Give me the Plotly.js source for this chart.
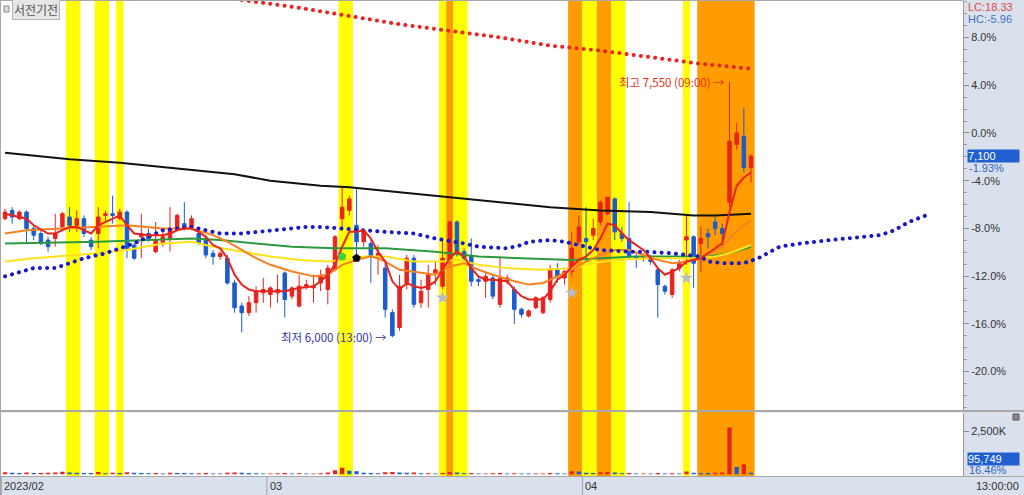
<!DOCTYPE html>
<html>
<head>
<meta charset="utf-8">
<script src="https://cdn.plot.ly/plotly-3.0.1.min.js"></script>
<style>
html,body{margin:0;padding:0;background:#fff;}
#chart{width:1024px;height:495px;}
</style>
</head>
<body>
<div id="chart"></div>
<script>
// ---------------- data ----------------
const basePrice = 7240;           // 0.0% reference price
const lastPrice = 7100;
const openP = [6720,6770,6720,6760,6660,6630,6590,6600,6670,6730,
  6680,6720,6590,6630,6740,6750,6720,6760,6560,6610,
  6630,6520,6570,6600,6660,6690,6670,6630,6600,6510,
  6490,6480,6330,6190,6150,6210,6270,6260,6270,6390,
  6250,6190,6310,6300,6330,6290,6410,6720,6770,6680,
  6580,6570,6480,6420,6150,6060,6330,6480,6210,6290,
  6390,6310,6460,6700,6520,6490,6350,6340,6360,6200,
  6340,6290,6170,6130,6180,6150,6230,6410,6360,6400,
  6580,6600,6620,6700,6750,6840,6630,6600,6490,6480,
  6490,6410,6310,6260,6420,6590,6610,6570,6630,6700,
  6660,6820,7170,7220,7030];
const highP = [6780,6790,6770,6770,6680,6650,6610,6750,6760,6790,
  6770,6740,6610,6790,6770,6860,6780,6770,6570,6750,
  6660,6700,6640,6790,6750,6820,6740,6650,6620,6530,
  6520,6500,6350,6210,6250,6310,6360,6310,6380,6400,
  6310,6380,6350,6380,6410,6440,6620,6910,6860,6910,
  6660,6590,6560,6470,6170,6380,6500,6500,6350,6440,
  6460,6590,6710,6710,6540,6600,6370,6400,6380,6490,
  6380,6310,6180,6170,6250,6250,6440,6450,6410,6640,
  6740,6790,6720,6830,6850,6850,6670,6820,6520,6510,
  6500,6420,6320,6420,6470,6740,6620,6670,6660,6730,
  6690,7550,7300,7390,7110];
const lowP = [6710,6690,6710,6570,6590,6560,6520,6550,6660,6640,
  6640,6610,6530,6540,6700,6690,6710,6480,6470,6480,
  6580,6510,6550,6520,6650,6650,6650,6560,6480,6440,
  6470,6320,6150,6030,6130,6150,6210,6180,6210,6120,
  6230,6180,6290,6210,6280,6200,6400,6650,6740,6490,
  6550,6330,6380,6120,6000,6040,6290,6180,6180,6180,
  6320,6290,6440,6490,6460,6310,6310,6240,6230,6180,
  6320,6080,6120,6120,6170,6140,6210,6330,6320,6370,
  6560,6460,6590,6680,6740,6590,6580,6470,6420,6460,
  6440,6120,6260,6240,6400,6440,6300,6400,6540,6620,
  6540,6790,7140,7000,6940];
const closeP = [6760,6730,6760,6660,6620,6570,6550,6630,6750,6680,
  6720,6630,6550,6730,6750,6740,6760,6540,6480,6630,
  6600,6590,6610,6660,6740,6670,6720,6570,6500,6490,
  6510,6330,6180,6150,6210,6280,6290,6300,6290,6230,
  6300,6310,6320,6310,6370,6420,6610,6790,6840,6580,
  6650,6490,6510,6170,6010,6310,6480,6200,6280,6380,
  6410,6480,6700,6510,6480,6340,6340,6370,6250,6360,
  6360,6170,6140,6160,6240,6240,6410,6370,6400,6540,
  6670,6580,6660,6820,6850,6640,6600,6490,6480,6490,
  6460,6320,6280,6410,6450,6610,6450,6600,6610,6660,
  6630,7190,7240,7030,7100];
const volume = [120000,90000,80000,110000,70000,80000,90000,100000,150000,110000,
  90000,80000,70000,130000,60000,90000,70000,120000,90000,80000,
  60000,70000,50000,90000,80000,70000,60000,60000,70000,50000,
  40000,90000,110000,90000,70000,60000,50000,50000,60000,80000,
  50000,60000,40000,50000,60000,110000,230000,380000,200000,170000,
  90000,80000,60000,120000,130000,110000,90000,100000,60000,60000,
  50000,80000,140000,110000,60000,70000,40000,50000,60000,70000,
  40000,60000,50000,40000,50000,50000,80000,60000,50000,180000,
  160000,90000,70000,120000,130000,110000,60000,70000,50000,50000,
  40000,70000,50000,60000,50000,160000,90000,80000,70000,90000,
  100000,2730000,420000,580000,95749];

// moving averages (at candle indexes)
const ma5X = [0,3,4,6,7,8,9,10,11,12,13,14,16,17,18,20,21,22,23,24,25,26,27,28,29,30,31,32,33,34,35,37,39,40,41,43,44,45,46,47,48,49,50,51,52,53,54,55,56,57,58,59,60,61,62,63,64,65,66,67,68,70,71,72,73,75,76,77,78,79,80,81,82,83,84,85,86,87,88,89,90,91,92,93,94,95,96,97,98,99,100,101,102,103,104];
const ma5Y = [6750,6720,6680,6630,6630,6650,6670,6670,6650,6630,6680,6700,6740,6680,6630,6620,6620,6620,6630,6650,6660,6660,6640,6610,6560,6540,6480,6380,6320,6290,6280,6280,6280,6290,6300,6310,6340,6380,6440,6550,6640,6640,6650,6600,6520,6460,6340,6290,6330,6310,6300,6310,6340,6410,6480,6520,6490,6420,6370,6350,6350,6340,6290,6250,6230,6230,6280,6350,6380,6430,6470,6490,6530,6600,6690,6680,6630,6590,6560,6530,6480,6420,6380,6400,6420,6460,6470,6480,6510,6540,6570,6760,6920,6970,7000];
const ma10X = [0,3,8,13,17,22,26,29,31,33,35,37,40,43,45,46,47,49,51,52,53,55,58,60,62,64,66,68,71,73,75,77,79,81,83,85,87,89,91,93,95,97,99,100,101,102,103,104];
const ma10Y = [6630,6650,6660,6670,6680,6660,6660,6620,6580,6530,6480,6440,6400,6370,6380,6410,6440,6470,6490,6480,6460,6410,6390,6380,6430,6450,6410,6380,6340,6320,6330,6370,6410,6460,6500,6530,6530,6500,6470,6450,6460,6480,6530,6550,6600,6640,6680,6710];
const ma20X = [0,4,13,17,22,26,29,33,37,41,45,47,50,53,57,61,63,66,70,75,79,82,85,90,96,99,101,104];
const ma20Y = [6460,6480,6510,6530,6570,6580,6550,6520,6490,6470,6460,6470,6490,6490,6460,6460,6470,6440,6420,6410,6420,6450,6470,6480,6480,6490,6510,6560];
const ma60X = [0,13,26,30,35,40,46,53,60,66,72,79,83,88,93,98,101,104];
const ma60Y = [6570,6580,6600,6590,6570,6550,6540,6540,6520,6490,6480,6470,6480,6490,6490,6490,6510,6550];
const ma120X = [0,9,16,23,32,37,44,48,55,62,69,76,83,90,96,99,104];
const ma120Y = [7120,7080,7060,7030,6990,6950,6920,6910,6880,6850,6820,6790,6770,6760,6740,6740,6750];
const redDotX = [30,34,41,48,55,62,69,76,83,90,97,104];
const redDotY = [8065,8040,8000,7950,7900,7860,7820,7770,7740,7700,7660,7630];
const blueDotX = [0,4,7,9,11,14,16,18,20,22,24,26,28,30,33,35,40,42,44,47,49,53,57,60,64,66,70,72,73,76,78,80,83,87,89,93,97,98,100,103,105,108,111,115,119,122,124,126,129];
const blueDotY = [6370,6420,6420,6450,6480,6510,6540,6570,6610,6650,6660,6670,6650,6630,6630,6640,6660,6670,6670,6660,6650,6640,6630,6600,6570,6550,6540,6560,6580,6590,6580,6560,6530,6520,6520,6510,6490,6460,6450,6450,6480,6550,6570,6590,6610,6620,6650,6700,6750];

// signal marks
const starX = [61,79,95];
const starY = [6240,6270,6360];
const greenMarkX = [47], greenMarkY = [6490];
const blackMarkX = [49], blackMarkY = [6480];

// highlighted candle ranges
const bandFrom = [9,13,16,47,61,62,63,79,81,83,85,95,97];
const bandTo   = [10,14,16,48,61,62,64,80,82,84,86,95,104];
const bandKind = ['Y','Y','Y','Y','Y','O','Y','O','Y','O','Y','Y','O'];

// labels
const pctTicks = [8,4,0,-4,-8,-12,-16,-20];
const monthTicks = [-0.5,36.5,80.5];
const monthLabels = ['2023/02','03','04'];
const highLabel = '최고 7,550 (09:00) →';
const lowLabel = '최저 6,000 (13:00) →';
const highIdx = 101, highVal = 7550;
const lowIdx = 54, lowVal = 6000;
const stockName = '서전기전';

// ---------------- drawing ----------------
const idx = openP.map((_, i) => i);
const RED = '#e8231d', BLUE = '#1c5ccc';
const px2x = p => (p - 1) / 962;
const py2y = p => (477 - p) / 476;

const volColors = volume.map((v, i) => (i === 0 || v >= volume[i-1]) ? RED : BLUE);
const DOTS = '0.1px,7.1px';

const traces = [
  {type:'scatter', mode:'lines', x:ma60X, y:ma60Y, line:{color:'#2b9a3c', width:2}, hoverinfo:'skip'},
  {type:'scatter', mode:'lines', x:ma20X, y:ma20Y, line:{color:'#ffe21a', width:2}, hoverinfo:'skip'},
  {type:'scatter', mode:'lines', x:ma10X, y:ma10Y, line:{color:'#f5821f', width:2}, hoverinfo:'skip'},
  {type:'scatter', mode:'lines', x:ma120X, y:ma120Y, line:{color:'#111111', width:2}, hoverinfo:'skip'},
  {type:'scatter', mode:'lines', x:redDotX, y:redDotY, line:{color:'#e82626', width:4, dash:DOTS}, hoverinfo:'skip'},
  {type:'scatter', mode:'lines', x:blueDotX, y:blueDotY, line:{color:'#1a1ac4', width:4, dash:DOTS}, hoverinfo:'skip'},
  {type:'candlestick', x:idx, open:openP, high:highP, low:lowP, close:closeP,
    increasing:{line:{color:RED, width:1}, fillcolor:RED},
    decreasing:{line:{color:BLUE, width:1}, fillcolor:BLUE},
    whiskerwidth:0, hoverinfo:'skip'},
  {type:'scatter', mode:'lines', x:ma5X, y:ma5Y, line:{color:'#e8231d', width:2}, hoverinfo:'skip'},
  {type:'scatter', mode:'markers', x:starX, y:starY, marker:{symbol:'star', size:10, color:'#b8bcc8'}, hoverinfo:'skip'},
  {type:'scatter', mode:'markers', x:greenMarkX, y:greenMarkY, marker:{symbol:'pentagon', size:9, color:'#3bd23b'}, hoverinfo:'skip'},
  {type:'scatter', mode:'markers', x:blackMarkX, y:blackMarkY, marker:{symbol:'pentagon', size:9, color:'#000'}, hoverinfo:'skip'},
  {type:'bar', x:idx, y:volume, yaxis:'y2', marker:{color:volColors}, width:0.6, hoverinfo:'skip'}
];

const shapes = [];
bandFrom.forEach((f, k) => {
  shapes.push({type:'rect', xref:'x', yref:'paper', x0:f-0.5, x1:bandTo[k]+0.5, y0:0, y1:1,
    fillcolor: bandKind[k] === 'Y' ? '#ffff00' : '#ff9c00', line:{width:0}, layer:'below'});
});
// frame lines
shapes.push({type:'line', xref:'paper', yref:'paper', x0:px2x(0), x1:px2x(1024), y0:py2y(411), y1:py2y(411), line:{color:'#a8a8a8', width:2}});
shapes.push({type:'line', xref:'paper', yref:'paper', x0:px2x(0), x1:px2x(1024), y0:py2y(476.5), y1:py2y(476.5), line:{color:'#a8a8a8', width:1}});
shapes.push({type:'line', xref:'paper', yref:'paper', x0:px2x(0), x1:px2x(963), y0:py2y(0.5), y1:py2y(0.5), line:{color:'#a8a8a8', width:1}});
shapes.push({type:'line', xref:'paper', yref:'paper', x0:px2x(0.5), x1:px2x(0.5), y0:py2y(0), y1:py2y(495), line:{color:'#a8a8a8', width:1}});
monthTicks.forEach(t => {
  shapes.push({type:'line', xref:'x', yref:'paper', x0:t, x1:t, y0:py2y(477), y1:py2y(495), line:{color:'#9aa3b5', width:1}});
});
// small icons
shapes.push({type:'rect', xref:'paper', yref:'paper', x0:px2x(4), x1:px2x(9), y0:py2y(12), y1:py2y(6), fillcolor:'#dddddd', line:{color:'#888', width:1}});
shapes.push({type:'rect', xref:'paper', yref:'paper', x0:px2x(1013), x1:px2x(1019), y0:py2y(420), y1:py2y(414), fillcolor:'#8a8a8a', line:{color:'#555', width:1}});

const annotations = [
  {xref:'x', yref:'y', x:highIdx, y:highVal, xanchor:'right', yanchor:'middle', xshift:-3, text:highLabel, showarrow:false,
    font:{family:'Noto Sans CJK KR', size:11.5, color:'#e8321e'}},
  {xref:'x', yref:'y', x:lowIdx, y:lowVal, xanchor:'right', yanchor:'middle', xshift:-3, text:lowLabel, showarrow:false,
    font:{family:'Noto Sans CJK KR', size:11.5, color:'#3535a6'}},
  {xref:'paper', yref:'y', x:px2x(967), y:lastPrice, xanchor:'left', yanchor:'middle', text:'7,100', showarrow:false,
    bgcolor:'#1f5fcf', width:51, align:'left', borderpad:0, font:{family:'Liberation Sans', size:11, color:'#fff'}},
  {xref:'paper', yref:'y', x:px2x(967), y:lastPrice, yshift:-12, xanchor:'left', yanchor:'middle', text:'-1.93%', showarrow:false,
    font:{family:'Liberation Sans', size:11, color:'#2f62c4'}},
  {xref:'paper', yref:'paper', x:px2x(966), y:py2y(7), xanchor:'left', yanchor:'middle', text:'LC:18.33', showarrow:false,
    font:{family:'Liberation Sans', size:11, color:'#e04848'}},
  {xref:'paper', yref:'paper', x:px2x(966), y:py2y(19), xanchor:'left', yanchor:'middle', text:'HC:-5.96', showarrow:false,
    font:{family:'Liberation Sans', size:11, color:'#3f6fc4'}},
  {xref:'paper', yref:'paper', x:px2x(967), y:py2y(459), xanchor:'left', yanchor:'middle', text:'95,749', showarrow:false,
    bgcolor:'#1f5fcf', width:51, align:'left', borderpad:0, font:{family:'Liberation Sans', size:11, color:'#fff'}},
  {xref:'paper', yref:'paper', x:px2x(967), y:py2y(470), xanchor:'left', yanchor:'middle', text:'16.46%', showarrow:false,
    font:{family:'Liberation Sans', size:11, color:'#2f62c4'}},
  {xref:'paper', yref:'paper', x:px2x(974), y:py2y(486), xanchor:'left', yanchor:'middle', text:'13:00:00', showarrow:false,
    font:{family:'Liberation Sans', size:11, color:'#333'}},
  {xref:'paper', yref:'paper', x:px2x(12), y:py2y(9.5), xanchor:'left', yanchor:'middle', text:stockName, showarrow:false,
    bgcolor:'#e6e6e6', bordercolor:'#b4b4b4', borderwidth:1, borderpad:1,
    font:{family:'Noto Sans CJK KR', size:12, color:'#555'}}
];
monthTicks.forEach((t, k) => {
  annotations.push({xref:'x', yref:'paper', x:t, y:py2y(486), xanchor:'left', yanchor:'middle', xshift:1,
    text:monthLabels[k], showarrow:false, font:{family:'Liberation Sans', size:11, color:'#333'}});
});

const minorVals = [];
for (let p = -23; p <= 11; p++) minorVals.push(basePrice * (1 + p / 100));

const layout = {
  width:1024, height:495,
  margin:{l:1, r:61, t:1, b:18, pad:0},
  paper_bgcolor:'#dae1ec',
  plot_bgcolor:'#ffffff',
  showlegend:false,
  hovermode:false,
  xaxis:{range:[-0.56,133.55], showticklabels:false, showgrid:false, zeroline:false, ticks:'',
    rangeslider:{visible:false}, fixedrange:true, showline:false},
  yaxis:{domain:[py2y(410), 1], range:[5559,8041], side:'right', showgrid:false, zeroline:false,
    showline:true, linecolor:'#9a9a9a', linewidth:1,
    tickmode:'array', tickvals:pctTicks.map(p => basePrice*(1+p/100)), ticktext:pctTicks.map(p => p.toFixed(1)+'%'),
    ticks:'outside', ticklen:5, tickcolor:'#8a8a8a',
    minor:{tickmode:'array', tickvals:minorVals, ticks:'outside', ticklen:3, tickcolor:'#9a9a9a'},
    tickfont:{family:'Liberation Sans', size:11, color:'#333'}, fixedrange:true},
  yaxis2:{domain:[py2y(476), py2y(412.5)], range:[-100000,3600000], side:'right', anchor:'x', showgrid:false, zeroline:false,
    showline:true, linecolor:'#9a9a9a', linewidth:1,
    tickmode:'array', tickvals:[2500000], ticktext:['2,500K'], ticks:'outside', ticklen:5, tickcolor:'#8a8a8a',
    tickfont:{family:'Liberation Sans', size:11, color:'#333'}, fixedrange:true},
  shapes:shapes,
  annotations:annotations
};

Plotly.newPlot('chart', traces, layout, {staticPlot:true, displayModeBar:false}).then(gd => {
  // round caps turn the tiny dashes into round dots
  gd.querySelectorAll('path.js-line').forEach(p => {
    const s = p.getAttribute('style') || '';
    if (s.indexOf('0.1px') >= 0) p.style.strokeLinecap = 'round';
  });
});
</script>
</body>
</html>
